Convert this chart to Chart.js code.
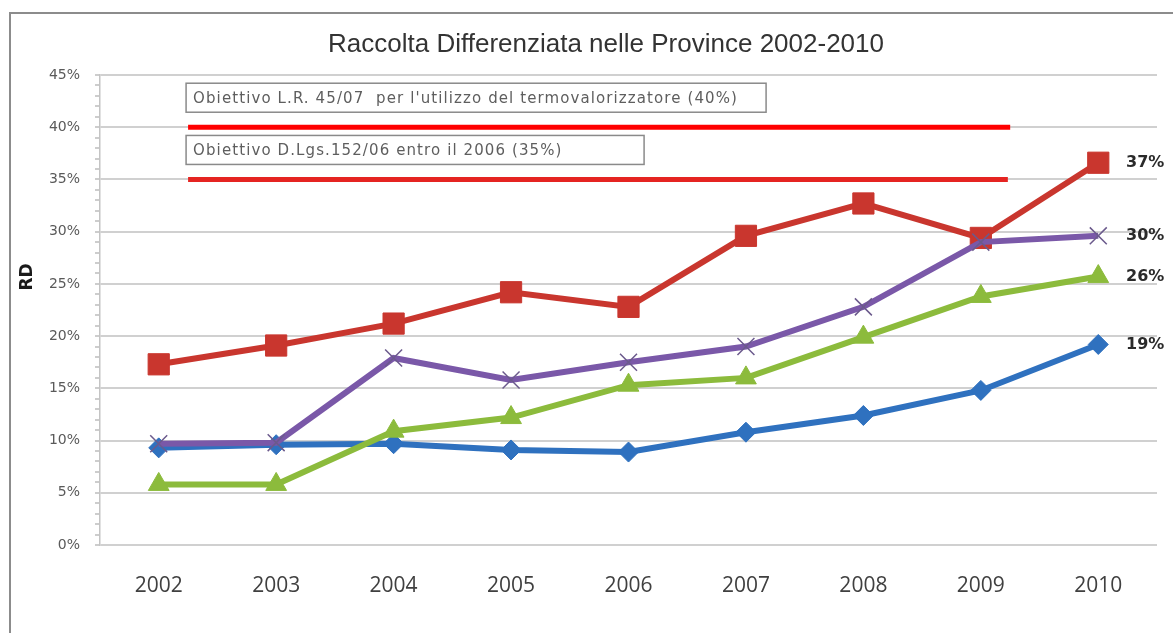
<!DOCTYPE html>
<html lang="it">
<head>
<meta charset="utf-8">
<title>Raccolta Differenziata nelle Province 2002-2010</title>
<script src="https://cdn.jsdelivr.net/npm/chart.js@4.4.1/dist/chart.umd.min.js"></script>
<style>
  html, body { margin: 0; padding: 0; background: #fff; }
  #grafico { display: block; }
</style>
</head>
<body>
<canvas id="grafico" width="1173" height="633"></canvas>
<script>
// anni sull'asse x
const anni = ['2002', '2003', '2004', '2005', '2006', '2007', '2008', '2009', '2010'];

// percentuali di raccolta differenziata per serie
const rdBlu = [9.3, 9.6, 9.7, 9.1, 8.9, 10.8, 12.4, 14.8, 19.2];
const rdRosso = [17.3, 19.1, 21.2, 24.2, 22.8, 29.6, 32.7, 29.4, 36.6];
const rdVerde = [5.8, 5.8, 10.9, 12.2, 15.3, 16.0, 19.9, 23.8, 25.7];
const rdViola = [9.7, 9.8, 17.9, 15.8, 17.5, 19.0, 22.8, 29.0, 29.6];

// obiettivi di legge
const obiettivi = [40, 35];
const obiettiviTesto = [
  "Obiettivo L.R. 45/07  per l'utilizzo del termovalorizzatore (40%)",
  'Obiettivo D.Lgs.152/06 entro il 2006 (35%)'
];
const obiettiviDa = [2002.25, 2002.25];
const obiettiviA = [2009.25, 2009.23];

const titolo = 'Raccolta Differenziata nelle Province 2002-2010';

// larghezza dei riquadri di testo (px)
const LARGHEZZA_RIQUADRI = [580, 458];

const serie = [
  { dati: rdBlu, colore: '#2f71bf', punto: 'rectRot', raggio: 10, ordine: 4 },
  { dati: rdRosso, colore: '#c9362e', punto: 'rect', raggio: 15, ordine: 3 },
  { dati: rdVerde, colore: '#8cbb3c', punto: 'triangle', raggio: 12, ordine: 2 },
  { dati: rdViola, colore: '#7a58a8', punto: 'crossRot', raggio: 12, ordine: 1 }
];

const datasets = serie.map((s, i) => ({
  label: 'Serie ' + (i + 1),
  data: s.dati,
  borderColor: s.colore,
  backgroundColor: s.colore,
  borderWidth: 6,
  pointStyle: s.punto,
  pointRadius: s.raggio,
  pointBorderWidth: s.punto === 'crossRot' ? 1.5 : 1,
  pointBorderColor: s.punto === 'crossRot' ? '#6b5a8c' : s.colore,
  tension: 0,
  order: s.ordine
}));

obiettivi.forEach((v, i) => {
  datasets.push({
    label: obiettiviTesto[i],
    xAxisID: 'xt',
    data: [{ x: obiettiviDa[i], y: v }, { x: obiettiviA[i], y: v }],
    borderColor: i === 0 ? '#ff0000' : '#e52421',
    borderWidth: 5,
    pointRadius: 0,
    order: 5
  });
});

// cornice, titolo, riquadri degli obiettivi ed etichette finali
const decorazioni = {
  id: 'decorazioni',
  beforeDraw(chart) {
    const ctx = chart.ctx;
    ctx.save();
    ctx.fillStyle = '#fff';
    ctx.fillRect(0, 0, chart.width, chart.height);
    ctx.strokeStyle = '#8c8c8c';
    ctx.lineWidth = 2;
    ctx.beginPath();
    ctx.moveTo(10, chart.height);
    ctx.lineTo(10, 13);
    ctx.lineTo(chart.width, 13);
    ctx.stroke();
    ctx.restore();
  },
  afterDraw(chart) {
    const ctx = chart.ctx;
    const ys = chart.scales.y;
    const xt = chart.scales.xt;
    const area = chart.chartArea;
    ctx.save();

    // titolo
    ctx.fillStyle = '#333';
    ctx.font = '26px "Liberation Sans", Arial, sans-serif';
    ctx.textAlign = 'center';
    ctx.textBaseline = 'middle';
    ctx.fillText(titolo, 606, 45);

    // etichetta asse y
    ctx.save();
    ctx.translate(28, 277);
    ctx.rotate(-Math.PI / 2);
    ctx.font = 'bold 17px "DejaVu Sans", sans-serif';
    ctx.fillStyle = '#1a1a1a';
    ctx.fillText('RD', 0, 0);
    ctx.restore();

    // riquadri di testo sopra le linee obiettivo
    ctx.font = '15px "DejaVu Sans", sans-serif';
    ctx.letterSpacing = '1.1px';
    ctx.textAlign = 'left';
    obiettivi.forEach((v, i) => {
      const yLinea = ys.getPixelForValue(v);
      const x0 = xt.getPixelForValue(obiettiviDa[i]) - 2;
      const w = LARGHEZZA_RIQUADRI[i];
      const h = 29;
      const y0 = yLinea - 15 - h;
      ctx.fillStyle = '#fff';
      ctx.fillRect(x0, y0, w, h);
      ctx.strokeStyle = '#8a8a8a';
      ctx.lineWidth = 1.5;
      ctx.strokeRect(x0, y0, w, h);
      ctx.fillStyle = '#5e5e5e';
      ctx.fillText(obiettiviTesto[i], x0 + 7, y0 + h / 2 + 1);
    });
    ctx.letterSpacing = '0px';

    // valori del 2010 a destra
    ctx.font = 'bold 16px "DejaVu Sans", sans-serif';
    ctx.fillStyle = '#2a2a2a';
    serie.forEach(s => {
      const v = s.dati[s.dati.length - 1];
      ctx.fillText(Math.round(v) + '%', area.right - 31, ys.getPixelForValue(v));
    });
    ctx.restore();
  }
};

new Chart(document.getElementById('grafico'), {
  type: 'line',
  data: { labels: anni, datasets },
  options: {
    responsive: false,
    animation: false,
    devicePixelRatio: 1,
    layout: { padding: { left: 0, right: 13, top: 75, bottom: 0 } },
    plugins: {
      legend: { display: false },
      tooltip: { enabled: false }
    },
    scales: {
      x: {
        type: 'category',
        offset: true,
        grid: { display: false },
        border: { display: false },
        ticks: {
          color: '#404040',
          padding: 20,
          font: { family: '"Open Sans", sans-serif', size: 21 }
        },
        afterFit: scale => { scale.height = 88; }
      },
      xt: {
        type: 'linear',
        display: false,
        min: 2001.5,
        max: 2010.5
      },
      y: {
        min: 0,
        max: 45,
        ticks: {
          stepSize: 1,
          autoSkip: false,
          padding: 15,
          color: '#5a5a5a',
          font: { family: '"DejaVu Sans", sans-serif', size: 14 },
          callback: v => (Math.round(v) % 5 === 0 ? Math.round(v) + '%' : '')
        },
        grid: {
          color: c => (Math.round(c.tick.value) % 5 === 0 ? '#d0d0d0' : 'rgba(0,0,0,0)'),
          lineWidth: 2,
          tickColor: '#bcbcbc',
          tickLength: 5,
          tickWidth: 1.5
        },
        border: { color: '#c4c4c4', width: 1.5 },
        afterFit: scale => { scale.width = 100; }
      }
    }
  },
  plugins: [decorazioni]
});
</script>
</body>
</html>
